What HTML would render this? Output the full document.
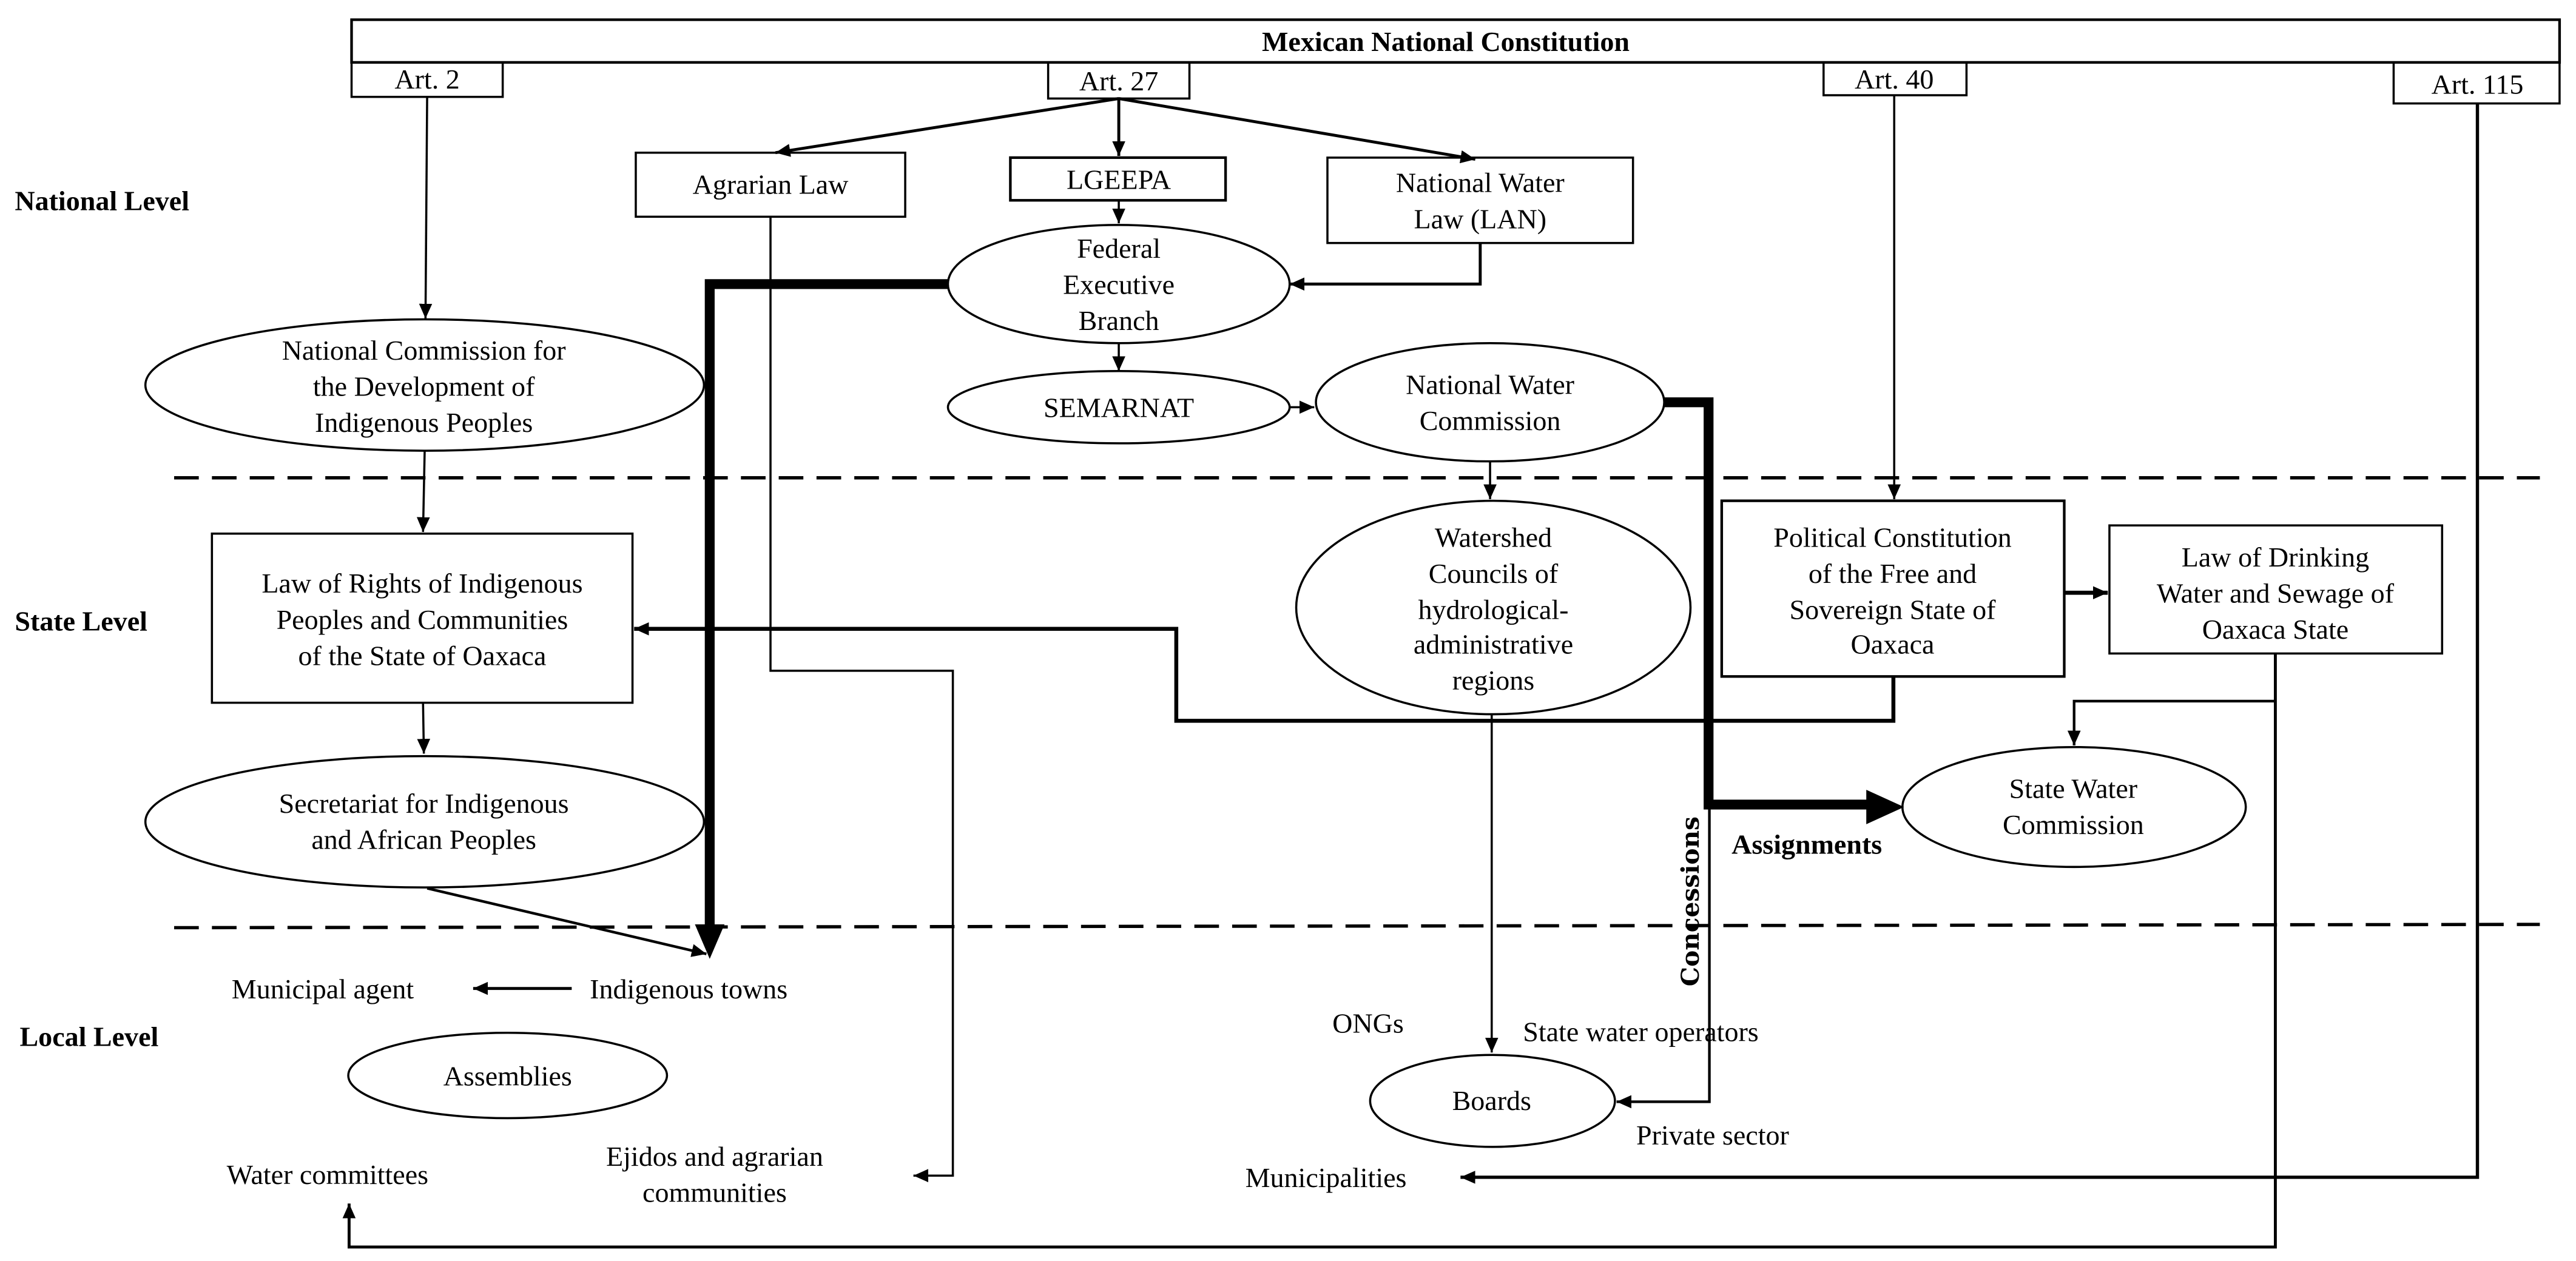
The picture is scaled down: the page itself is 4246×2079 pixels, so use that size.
<!DOCTYPE html>
<html><head><meta charset="utf-8"><style>
html,body{margin:0;padding:0;background:#fff;}
svg{display:block;}
text{font-family:"Liberation Serif",serif;font-size:17px;fill:#000;}
.b{font-weight:bold;}
</style></head><body>
<svg width="4246" height="2079" viewBox="0 0 1568 768" preserveAspectRatio="none" xmlns="http://www.w3.org/2000/svg">
<defs>
<marker id="a" markerUnits="userSpaceOnUse" markerWidth="10" markerHeight="10" refX="9" refY="5" orient="auto"><path d="M0,1 L9,5 L0,9 Z" fill="#000"/></marker>
</defs>
<g fill="none" stroke="#000" stroke-width="1.3">
<!-- constitution -->
<rect x="214" y="12" width="1344" height="26" stroke-width="1.6"/>
<rect x="214" y="38" width="92" height="21"/>
<rect x="638" y="38" width="86" height="22"/>
<rect x="1110" y="38" width="87" height="20"/>
<rect x="1457" y="38" width="101" height="25"/>
<!-- dashed -->
<line x1="106" y1="291" x2="1546" y2="291" stroke-width="2" stroke-dasharray="15,8"/>
<line x1="106" y1="565" x2="1546" y2="563" stroke-width="2" stroke-dasharray="15,8"/>
<!-- left column -->
<line x1="260" y1="59" x2="259" y2="194" marker-end="url(#a)"/>
<ellipse cx="258.5" cy="234.5" rx="170" ry="40"/>
<line x1="258.5" y1="274.5" x2="257.5" y2="324" marker-end="url(#a)"/>
<rect x="129" y="325" width="256" height="103"/>
<line x1="257.5" y1="428" x2="258" y2="459" marker-end="url(#a)"/>
<ellipse cx="258.5" cy="500.5" rx="170" ry="40"/>
<line x1="260" y1="541" x2="430" y2="581" stroke-width="1.6" marker-end="url(#a)"/>
<!-- Art 27 -->
<line x1="681" y1="60" x2="472" y2="93" stroke-width="1.8" marker-end="url(#a)"/>
<line x1="681" y1="60" x2="681" y2="95" stroke-width="1.8" marker-end="url(#a)"/>
<line x1="681" y1="60" x2="898" y2="97" stroke-width="1.8" marker-end="url(#a)"/>
<rect x="387" y="93" width="164" height="39"/>
<rect x="615" y="96" width="131" height="26" stroke-width="1.6"/>
<rect x="808" y="96" width="186" height="52"/>
<line x1="681" y1="122" x2="681" y2="136" marker-end="url(#a)"/>
<ellipse cx="681" cy="173" rx="104" ry="36"/>
<polyline points="901,148 901,173 785,173" stroke-width="1.8" marker-end="url(#a)"/>
<line x1="681" y1="209" x2="681" y2="226" marker-end="url(#a)"/>
<ellipse cx="681" cy="248" rx="104" ry="22"/>
<line x1="785" y1="248" x2="800" y2="248" marker-end="url(#a)"/>
<ellipse cx="907" cy="245" rx="106" ry="36"/>
<line x1="907" y1="281" x2="907" y2="304" marker-end="url(#a)"/>
<ellipse cx="909" cy="370" rx="120" ry="65"/>
<line x1="908" y1="435" x2="908" y2="641" marker-end="url(#a)"/>
<ellipse cx="908.5" cy="670.5" rx="74.5" ry="28"/>
<!-- agrarian line -->
<polyline points="469,132 469,408.5 580,408.5 580,716 556,716" marker-end="url(#a)"/>
<!-- concessions thin -->
<polyline points="1040.5,490 1040.5,671 984,671" stroke-width="1.6" marker-end="url(#a)"/>
<!-- Art 40 -->
<line x1="1153" y1="58" x2="1153" y2="304" marker-end="url(#a)"/>
<rect x="1048" y="305" width="208.5" height="107" stroke-width="1.6"/>
<line x1="1256.5" y1="361" x2="1283" y2="361" stroke-width="2.5" marker-end="url(#a)"/>
<rect x="1284" y="320" width="202.5" height="78"/>
<polyline points="1152.5,412 1152.5,439 716,439 716,383 386,383" stroke-width="2.4" marker-end="url(#a)"/>
<!-- drinking water line -->
<polyline points="1385,398 1385,759.5 212.5,759.5 212.5,733" stroke-width="1.8" marker-end="url(#a)"/>
<polyline points="1385,427 1262.5,427 1262.5,454" stroke-width="1.6" marker-end="url(#a)"/>
<ellipse cx="1262.5" cy="491.5" rx="104.5" ry="36.5"/>
<!-- Art 115 -->
<polyline points="1508,63 1508,717 889,717" stroke-width="2" marker-end="url(#a)"/>
<!-- municipal agent arrow -->
<line x1="348" y1="602" x2="288" y2="602" stroke-width="1.8" marker-end="url(#a)"/>
<ellipse cx="309" cy="655" rx="97" ry="26"/>
<!-- thick lines -->
<polyline points="577,173 432,173 432,565" stroke-width="6"/>
<polyline points="1013,245 1040,245 1040,490 1138,490" stroke-width="6"/>
</g>
<polygon points="423,563 441,563 432,584" fill="#000"/>
<polygon points="1136,481 1136,502 1159,491.5" fill="#000"/>
<!-- text -->
<g text-anchor="middle">
<text x="880" y="31" class="b">Mexican National Constitution</text>
<text x="260" y="54">Art. 2</text>
<text x="681" y="55">Art. 27</text>
<text x="1153" y="54">Art. 40</text>
<text x="1508" y="57">Art. 115</text>
<text x="469" y="118">Agrarian Law</text>
<text x="681" y="115">LGEEPA</text>
<text x="901" y="117">National Water</text>
<text x="901" y="139">Law (LAN)</text>
<text x="681" y="157">Federal</text>
<text x="681" y="179">Executive</text>
<text x="681" y="201">Branch</text>
<text x="681" y="254">SEMARNAT</text>
<text x="907" y="240">National Water</text>
<text x="907" y="262">Commission</text>
<text x="258" y="219">National Commission for</text>
<text x="258" y="241">the Development of</text>
<text x="258" y="263">Indigenous Peoples</text>
<text x="257" y="361">Law of Rights of Indigenous</text>
<text x="257" y="383">Peoples and Communities</text>
<text x="257" y="405">of the State of Oaxaca</text>
<text x="258" y="495">Secretariat for Indigenous</text>
<text x="258" y="517">and African Peoples</text>
<text x="909" y="333">Watershed</text>
<text x="909" y="355">Councils of</text>
<text x="909" y="377">hydrological-</text>
<text x="909" y="398">administrative</text>
<text x="909" y="420">regions</text>
<text x="1152" y="333">Political Constitution</text>
<text x="1152" y="355">of the Free and</text>
<text x="1152" y="377">Sovereign State of</text>
<text x="1152" y="398">Oaxaca</text>
<text x="1385" y="345">Law of Drinking</text>
<text x="1385" y="367">Water and Sewage of</text>
<text x="1385" y="389">Oaxaca State</text>
<text x="1262" y="486">State Water</text>
<text x="1262" y="508">Commission</text>
<text x="908" y="676">Boards</text>
<text x="309" y="661">Assemblies</text>
<text x="435" y="710">Ejidos and agrarian</text>
<text x="435" y="732">communities</text>
</g>
<text x="9" y="128" class="b">National Level</text>
<text x="9" y="384" class="b">State Level</text>
<text x="12" y="637" class="b">Local Level</text>
<text x="141" y="608">Municipal agent</text>
<text x="359" y="608">Indigenous towns</text>
<text x="138" y="721">Water committees</text>
<text x="811" y="629">ONGs</text>
<text x="927" y="634">State water operators</text>
<text x="996" y="697">Private sector</text>
<text x="758" y="723">Municipalities</text>
<text x="1054" y="520" class="b">Assignments</text>
<text x="0" y="0" class="b" text-anchor="middle" transform="translate(1034,549) rotate(-90)" style="font-family:'DejaVu Serif','Liberation Serif',serif;font-size:15px;">Concessions</text>
</svg>
</body></html>
